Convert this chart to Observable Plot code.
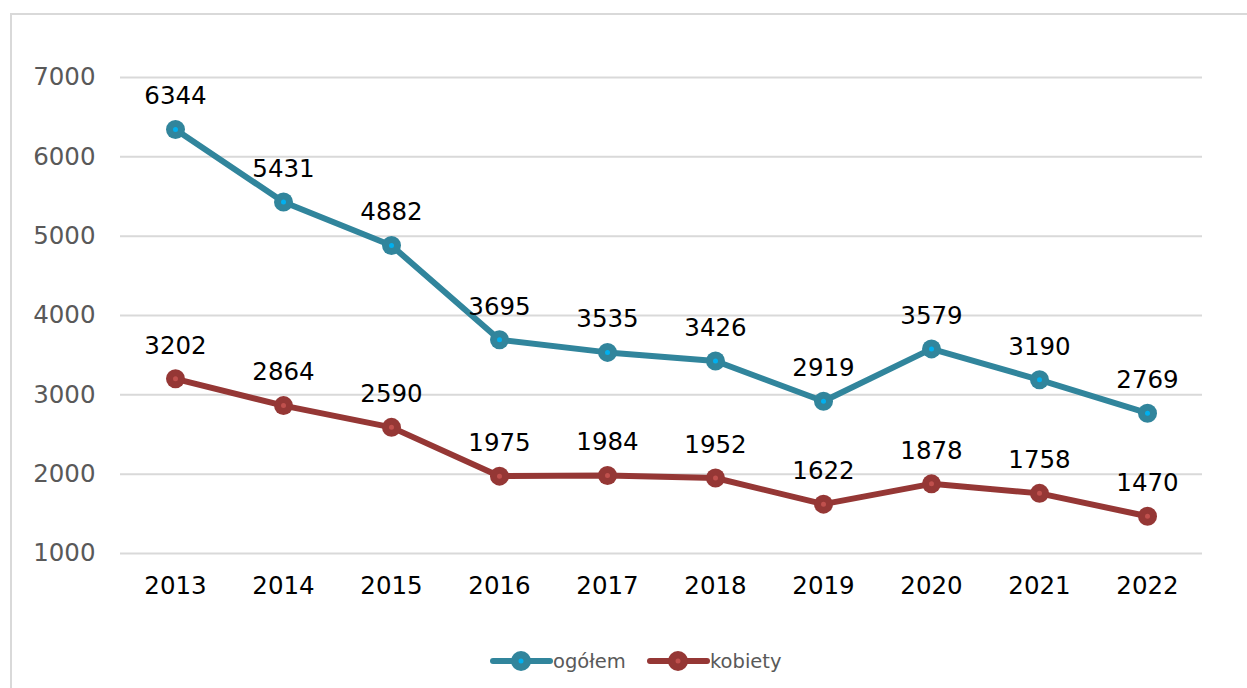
<!DOCTYPE html>
<html><head><meta charset="utf-8">
<script src="https://cdn.jsdelivr.net/npm/d3@7"></script>
<script src="https://cdn.jsdelivr.net/npm/@observablehq/plot@0.6"></script>
<style>
body{margin:0;background:#fff;font-family:"DejaVu Sans",sans-serif;}
#wrap{position:relative;width:1247px;height:688px;overflow:hidden;}
#frame{position:absolute;left:10px;top:13px;width:1250px;height:690px;border:2px solid #d9d9d9;box-sizing:border-box;}
#chart{position:absolute;left:0;top:0;}
#legend{position:absolute;left:0;top:640px;width:1247px;height:48px;}
</style></head>
<body><div id="wrap"><div id="frame"></div><div id="chart"></div><div id="legend"></div></div>
<script>
const years = ["2013","2014","2015","2016","2017","2018","2019","2020","2021","2022"];
const ogolem = [6344,5431,4882,3695,3535,3426,2919,3579,3190,2769];
const kobiety = [3202,2864,2590,1975,1984,1952,1622,1878,1758,1470];
const seriesNames = ["ogółem","kobiety"];
const colors = ["#31859c","#953735"];
const innerColors = ["#00b0f0","#c0504d"];
const yTicks = [1000,2000,3000,4000,5000,6000,7000];

const data = [];
years.forEach((y,i)=>{
  data.push({year:y,value:ogolem[i],series:seriesNames[0]});
  data.push({year:y,value:kobiety[i],series:seriesNames[1]});
});

const chart = Plot.plot({
  width:1247, height:640,
  marginLeft:120, marginRight:45, marginTop:77, marginBottom:87,
  style:{background:"transparent",fontFamily:"DejaVu Sans, sans-serif"},
  x:{type:"point", domain:years, padding:0.5, label:null},
  y:{domain:[1000,7000], ticks:yTicks, label:null},
  color:{domain:seriesNames, range:colors},
  marks:[
    Plot.gridY(yTicks,{stroke:"#d9d9d9",strokeOpacity:1,strokeWidth:2}),
    Plot.axisY(yTicks,{tickSize:0,tickPadding:25,fontSize:24.5,fill:"#595959",tickFormat:d=>String(d)}),
    Plot.axisX({tickSize:0,tickPadding:23,fontSize:24.5,fill:"#000"}),
    Plot.line(data,{x:"year",y:"value",z:"series",stroke:"series",strokeWidth:6,strokeLinejoin:"round"}),
    Plot.dot(data,{x:"year",y:"value",fill:"series",r:9.5,stroke:"none"}),
    Plot.dot(data,{x:"year",y:"value",fill:d=>innerColors[seriesNames.indexOf(d.series)],r:2.5,stroke:"none"}),
    Plot.text(data,{x:"year",y:"value",text:d=>String(d.value),dy:-33,fontSize:24.5,fill:"#000"})
  ]
});
document.getElementById("chart").appendChild(chart);

// legend
const lg = d3.select("#legend").append("svg").attr("width",1247).attr("height",48);
const items = [{x:493,name:seriesNames[0],c:colors[0],ic:innerColors[0]},{x:650,name:seriesNames[1],c:colors[1],ic:innerColors[1]}];
items.forEach(it=>{
  const g = lg.append("g");
  g.append("line").attr("x1",it.x).attr("x2",it.x+57).attr("y1",21).attr("y2",21).attr("stroke",it.c).attr("stroke-width",6).attr("stroke-linecap","round");
  g.append("circle").attr("cx",it.x+28).attr("cy",21).attr("r",10).attr("fill",it.c);
  g.append("circle").attr("cx",it.x+28).attr("cy",21).attr("r",2.5).attr("fill",it.ic);
  g.append("text").attr("x",it.x+60).attr("y",28).attr("font-size",19.5).attr("font-family","DejaVu Sans, sans-serif").attr("fill","#595959").text(it.name);
});
</script></body></html>
